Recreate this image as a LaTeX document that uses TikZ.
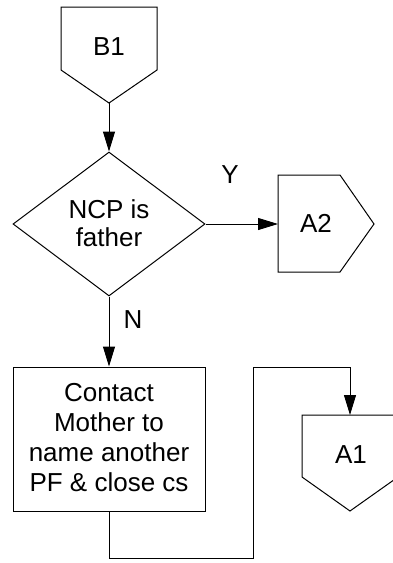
\documentclass[tikz,border=0pt]{standalone}
\usepackage{fontspec}
\setmainfont{Liberation Sans}
\usetikzlibrary{shapes.geometric,arrows.meta}
\begin{document}
\begin{tikzpicture}[x=1pt,y=-1pt,
  line width=1pt,
  txt/.style={font=\fontsize{26}{30}\selectfont, inner sep=0pt, align=center},
  dtxt/.style={font=\fontsize{26}{28}\selectfont, inner sep=0pt, align=center},
  shapeline/.style={draw=black, line width=1pt, line join=miter},
  arr/.style={draw=black, line width=1pt, -{Triangle[length=20pt,width=12pt]}}]
\useasboundingbox (0,0) rectangle (393,563);
\clip (0,0) rectangle (393,563);
% B1 off-page connector
\draw[shapeline] (61,7) -- (157,7) -- (157,70) -- (109,103) -- (61,70) -- cycle;
\coordinate (B1tip) at (109,103);
\node[txt, anchor=base] (B1) at (109,55) {B1};
% decision
\node[shapeline, diamond, aspect=1.3333, minimum width=192pt, minimum height=144pt, inner sep=0pt] (dec) at (109,224) {};
\node[dtxt] (dectxt) at (109,223) {NCP is\\father};
% A2
\draw[shapeline] (278,175) -- (340,175) -- (374,224) -- (340,272) -- (278,272) -- cycle;
\coordinate (A2w) at (278,224);
\node[txt, anchor=base] (A2) at (316,232) {A2};
% process box
\node[shapeline, rectangle, minimum width=192pt, minimum height=144pt, inner sep=0pt] (box) at (109,439) {};
\node[txt] (boxtxt) at (109,438) {Contact\\Mother to\\name another\\PF \& close cs};
% A1
\draw[shapeline] (302,415) -- (398,415) -- (398,477) -- (350,511) -- (302,477) -- cycle;
\coordinate (A1n) at (350,415);
\node[txt, anchor=base] (A1) at (351,463) {A1};
% connectors
\draw[arr] (B1tip) -- (dec.north);
\draw[arr] (dec.east) -- (A2w);
\draw[arr] (dec.south) -- (box.north);
\coordinate (c1) at (109,558);
\coordinate (c2) at (253,558);
\coordinate (c3) at (253,367);
\coordinate (c4) at (350,367);
\draw[arr] (box.south) -- (c1) -- (c2) -- (c3) -- (c4) -- (A1n);
% labels
\node[txt] (Y) at (230,175) {Y};
\node[txt] (N) at (133,320) {N};
\end{tikzpicture}
\end{document}
